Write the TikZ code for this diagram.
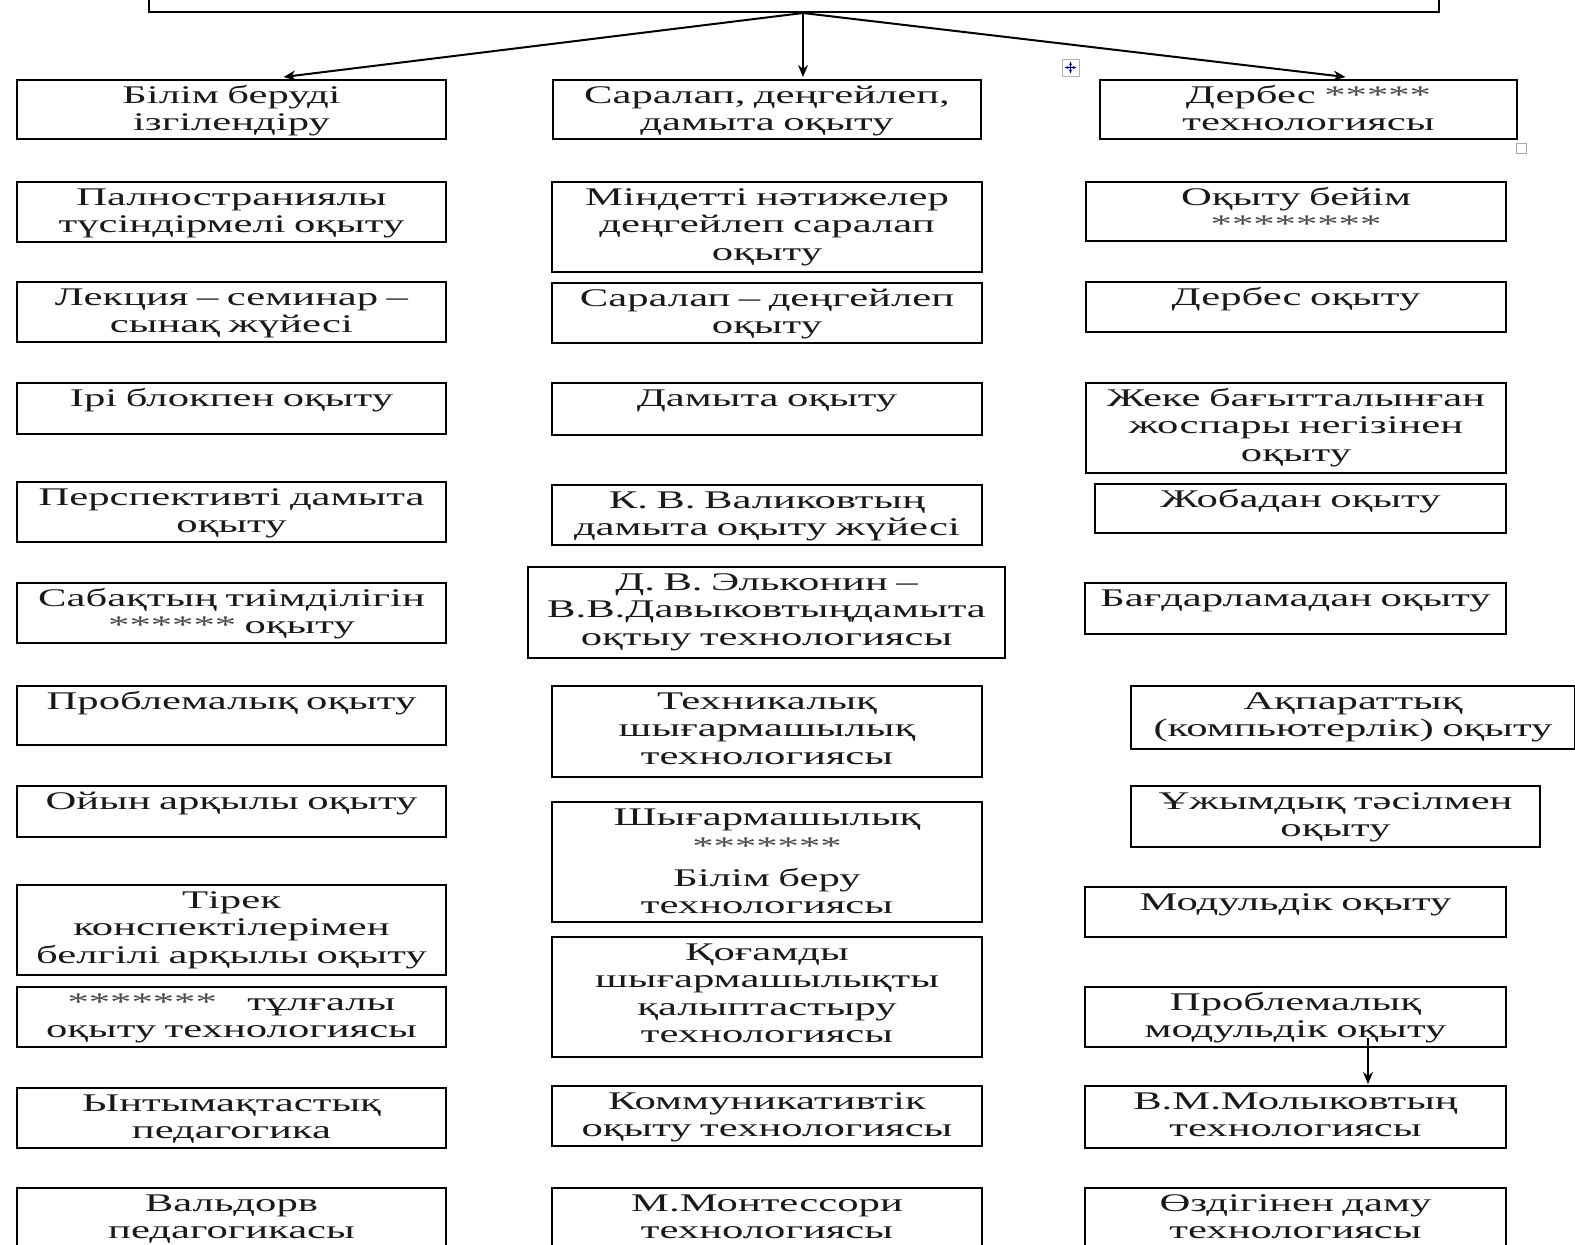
\documentclass[tikz,border=0pt]{standalone}
\usepackage{fontspec}
\setmainfont{Liberation Serif}[FakeStretch=1.68]
\usetikzlibrary{fit,calc,arrows.meta}
\newcommand\mybox[6]{%
  \node[bx, fit={(#2,#3) (#4,#5)}] (#1) {};
  \node[tx] (#1t) at ($(#1.north)+(0,24.5)$) {#6};}
\newcommand\stars[1]{{\color{black!70}#1}}
\begin{document}
\begin{tikzpicture}[x=0.5pt,y=-0.5pt,
  bx/.style={draw, line width=1pt, inner sep=0pt},
  tx/.style={anchor=base, align=center, text width=250pt, inner sep=0pt, text=black!90,
    font=\fontsize{12.7pt}{13.7pt}\selectfont},
  ar/.style={-{Stealth[length=6pt,width=5pt]}, line width=1pt}]
\useasboundingbox[fill=white] (0,0) rectangle (1575,1244);

% top box (mostly outside the picture)
\node[bx, fit={(149,-40) (1439,12)}] (top) {};

% column 1
\mybox{a1}{17}{80}{446}{139}{Білім беруді\\ізгілендіру}
\mybox{a2}{17}{182}{446}{242}{Палностраниялы\\түсіндірмелі оқыту}
\mybox{a3}{17}{282}{446}{342}{Лекция – семинар –\\сынақ жүйесі}
\mybox{a4}{17}{383}{446}{434}{Ірі блокпен оқыту}
\mybox{a5}{17}{482}{446}{542}{Перспективті дамыта\\оқыту}
\mybox{a6}{17}{583}{446}{643}{Сабақтың тиімділігін\\\stars{******} оқыту}
\mybox{a7}{17}{686}{446}{745}{Проблемалық оқыту}
\mybox{a8}{17}{786}{446}{837}{Ойын арқылы оқыту}
\mybox{a9}{17}{885}{446}{975}{Тірек\\конспектілерімен\\белгілі арқылы оқыту}
\mybox{a10}{17}{987}{446}{1047}{\stars{*******}\hspace{1.2em}тұлғалы\\оқыту технологиясы}
\mybox{a11}{17}{1088}{446}{1148}{Ынтымақтастық\\педагогика}
\mybox{a12}{17}{1188}{446}{1270}{Вальдорв\\педагогикасы}

% column 2
\mybox{b1}{553}{80}{981}{139}{Саралап, деңгейлеп,\\дамыта оқыту}
\mybox{b2}{552}{182}{982}{272}{Міндетті нәтижелер\\деңгейлеп саралап\\оқыту}
\mybox{b3}{552}{283}{982}{343}{Саралап – деңгейлеп\\оқыту}
\mybox{b4}{552}{383}{982}{435}{Дамыта оқыту}
\mybox{b5}{552}{485}{982}{545}{К. В. Валиковтың\\дамыта оқыту жүйесі}
\mybox{b6}{528}{567}{1005}{658}{Д. В. Эльконин –\\В.В.Давыковтыңдамыта\\оқтыу технологиясы}
\mybox{b7}{552}{686}{982}{777}{Техникалық\\шығармашылық\\технологиясы}
\mybox{b8}{552}{802}{982}{922}{Шығармашылық\\[1pt]\stars{*******}\\[2pt]Білім беру\\технологиясы}
\mybox{b9}{552}{937}{982}{1057}{Қоғамды\\шығармашылықты\\қалыптастыру\\технологиясы}
\mybox{b10}{552}{1086}{982}{1146}{Коммуникативтік\\оқыту технологиясы}
\mybox{b11}{552}{1188}{982}{1270}{М.Монтессори\\технологиясы}

% column 3
\mybox{c1}{1100}{80}{1517}{139}{Дербес \stars{*****}\\технологиясы}
\mybox{c2}{1086}{182}{1506}{241}{Оқыту бейім\\\stars{********}}
\mybox{c3}{1086}{282}{1506}{332}{Дербес оқыту}
\mybox{c4}{1086}{383}{1506}{473}{Жеке бағытталынған\\жоспары негізінен\\оқыту}
\mybox{c5}{1095}{484}{1506}{533}{Жобадан оқыту}
\mybox{c6}{1085}{583}{1506}{634}{Бағдарламадан оқыту}
\mybox{c7}{1131}{686}{1575}{749}{Ақпараттық\\(компьютерлік) оқыту}
\mybox{c8}{1131}{786}{1540}{847}{Ұжымдық тәсілмен\\оқыту}
\mybox{c9}{1085}{887}{1506}{937}{Модульдік оқыту}
\mybox{c10}{1085}{987}{1506}{1047}{Проблемалық\\модульдік оқыту}
\mybox{c11}{1085}{1086}{1506}{1148}{В.М.Молыковтың\\технологиясы}
\mybox{c12}{1085}{1188}{1506}{1270}{Өздігінен даму\\технологиясы}

% connectors
\coordinate (src) at ($(top.south)+(9,0)$);
\draw[ar] (src) -- ($(a1.north)+(52,-2)$);
\draw[ar] (src) -- ($(b1.north)+(36,-2)$);
\draw[ar] (src) -- ($(c1.north)+(37,-2)$);
\draw[ar] ($(c10.south)+(72.5,-10)$) -- ($(c11.north)+(72.5,-1)$);

% editor artefacts
\node[draw=gray!60, line width=0.5pt, fill=white, fit={(1062,59) (1079,76)}, inner sep=0pt] (mv) {};
\draw[{Stealth[length=2pt]}-{Stealth[length=2pt]}, blue!60!black, line width=0.6pt]
  ($(mv.west)+(3,0)$) -- ($(mv.east)+(-3,0)$);
\draw[{Stealth[length=2pt]}-{Stealth[length=2pt]}, blue!60!black, line width=0.6pt]
  ($(mv.north)+(0,3)$) -- ($(mv.south)+(0,-3)$);
\node[draw=gray!70, line width=0.5pt, fill=white, fit={(1516,143) (1526,153)}, inner sep=0pt] (hd) {};
\end{tikzpicture}
\end{document}
